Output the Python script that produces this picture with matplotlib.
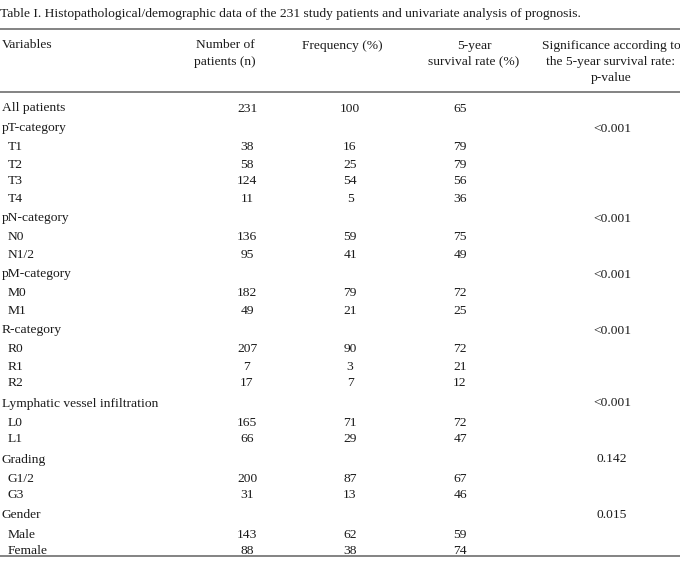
import matplotlib
matplotlib.use("Agg")
import matplotlib.pyplot as plt

title = "Table I. Histopathological/demographic data of the 231 study patients and univariate analysis of prognosis."
headers = ["Variables", "Number of\npatients (n)", "Frequency (%)", "5-year\nsurvival rate (%)",
           "Significance according to\nthe 5-year survival rate:\np-value"]

variables = ["All patients", "pT-category", "T1", "T2", "T3", "T4",
             "pN-category", "N0", "N1/2",
             "pM-category", "M0", "M1",
             "R-category", "R0", "R1", "R2",
             "Lymphatic vessel infiltration", "L0", "L1",
             "Grading", "G1/2", "G3",
             "Gender", "Male", "Female"]
is_sub = [False, False, True, True, True, True,
          False, True, True,
          False, True, True,
          False, True, True, True,
          False, True, True,
          False, True, True,
          False, True, True]
n_patients = ["231", "", "38", "58", "124", "11",
              "", "136", "95",
              "", "182", "49",
              "", "207", "7", "17",
              "", "165", "66",
              "", "200", "31",
              "", "143", "88"]
frequency = ["100", "", "16", "25", "54", "5",
             "", "59", "41",
             "", "79", "21",
             "", "90", "3", "7",
             "", "71", "29",
             "", "87", "13",
             "", "62", "38"]
survival = ["65", "", "79", "79", "56", "36",
            "", "75", "49",
            "", "72", "25",
            "", "72", "21", "12",
            "", "72", "47",
            "", "67", "46",
            "", "59", "74"]
p_values = ["", "<0.001", "", "", "", "",
            "<0.001", "", "",
            "<0.001", "", "",
            "<0.001", "", "", "",
            "<0.001", "", "",
            "0.142", "", "",
            "0.015", "", ""]

W, H = 680, 568
fig = plt.figure(figsize=(W / 100, H / 100), dpi=100)
ax = fig.add_axes([0, 0, 1, 1])
ax.set_xlim(0, W)
ax.set_ylim(H, 0)
ax.axis("off")

FONT = "Liberation Serif"
FS = 9.7
TXT = "#1a1a1a"

ax.text(0, 13, title, fontsize=FS, family=FONT, color=TXT, ha="left", va="center_baseline")

line_col = "#6e6e6e"
for yl in (29, 92, 556):
    ax.plot([0, W], [yl, yl], color=line_col, lw=1.2, solid_capstyle="butt")

col_x = [2, 225, 342, 474, 611]
ax.text(col_x[0], 44, headers[0], fontsize=FS, family=FONT, color=TXT, ha="left", va="center_baseline")
for i in range(1, 5):
    for j, ln in enumerate(headers[i].split("\n")):
        ax.text(col_x[i], 44 + 16 * j, ln, fontsize=FS, family=FONT, color=TXT,
                ha="center", va="center_baseline")

data_x = [247, 350, 460, 612]
y = 107
prev_sub = None
for k, lab in enumerate(variables):
    if k > 0:
        if is_sub[k] and prev_sub:
            y += 17
        elif is_sub[k]:
            y += 19
        else:
            y += 20
    prev_sub = is_sub[k]
    ax.text(8 if is_sub[k] else 2, y, lab, fontsize=FS, family=FONT, color=TXT,
            ha="left", va="center_baseline")
    for xv, val in zip(data_x, (n_patients[k], frequency[k], survival[k], p_values[k])):
        if val:
            ax.text(xv, y, val, fontsize=FS, family=FONT, color=TXT,
                    ha="center", va="center_baseline")

fig.savefig("out.png", dpi=100)
